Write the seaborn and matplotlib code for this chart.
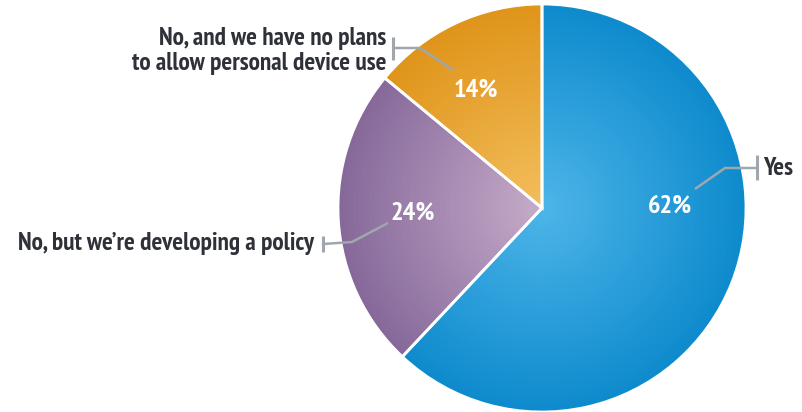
import numpy as np
import matplotlib
matplotlib.use("Agg")
import matplotlib.pyplot as plt
import seaborn as sns
from matplotlib.colors import to_rgb

sns.set_theme(style="white")
plt.rcParams['font.family'] = ['PT Sans Narrow', 'Roboto Condensed', 'DejaVu Sans']

# ---- data ----
categories = ["Yes", "No, but we\u2019re developing a policy",
              "No, and we have no plans\nto allow personal device use"]
values = [62, 24, 14]
pct_labels = ["62%", "24%", "14%"]

# ---- style ----
edge_colors = ["#0e8bcd", "#86699a", "#df951a"]
center_colors = ["#4cb4e8", "#c6aac8", "#f3bd5c"]

W, H = 802, 412
fig = plt.figure(figsize=(W / 100, H / 100), dpi=100)
ax = fig.add_axes([0, 0, 1, 1])

cx, cy, R = 542, H - 208, 204

# radial gradient via concentric pies
n = 40
for i in range(n):
    t = i / (n - 1)
    r = R * (1 - t * 0.97)
    cols = [tuple(np.array(to_rgb(e)) * (1 - t) + np.array(to_rgb(c)) * t)
            for e, c in zip(edge_colors, center_colors)]
    ax.pie(values, colors=cols, startangle=90, counterclock=False,
           center=(cx, cy), radius=r, frame=True,
           wedgeprops=dict(linewidth=0, antialiased=True))
# white separators
ax.pie(values, colors=["none"] * 3, startangle=90, counterclock=False,
       center=(cx, cy), radius=R, frame=True,
       wedgeprops=dict(linewidth=2, edgecolor="white", fill=False))

ax.set_xlim(0, W)
ax.set_ylim(0, H)
ax.set_aspect('equal')
ax.axis('off')

def Y(y):
    return H - y

# percentage labels
pct_pos = [(670, 206), (413, 213), (476, 90)]
for (x, y), s in zip(pct_pos, pct_labels):
    ax.text(x, Y(y), s, color="white", fontsize=19, fontweight="bold",
            ha="center", va="center")

lc = "#a0a6ae"
# leader lines
leaders = [
    [(695, 189), (725, 168), (756, 168)],
    [(388, 223), (352, 242), (323, 244)],
    [(453, 70), (420, 48), (393, 48)],
]
bars = [(757, 155, 180), (323, 236, 252), (393, 37, 60)]
for pts, (bx, b0, b1) in zip(leaders, bars):
    xs, ys = zip(*pts)
    ax.plot(xs, [Y(v) for v in ys], color=lc, lw=1.8, solid_capstyle="butt")
    ax.plot([bx, bx], [Y(b0), Y(b1)], color=lc, lw=2.2, solid_capstyle="butt")

tc = "#2e3138"
fs = 18.3
ax.text(763, Y(168), categories[0], color=tc, fontsize=fs, fontweight="bold",
        ha="left", va="center")
ax.text(314, Y(243), categories[1], color=tc, fontsize=fs, fontweight="bold",
        ha="right", va="center")
ax.text(386, Y(51), categories[2], color=tc, fontsize=fs, fontweight="bold",
        ha="right", va="center", multialignment="right", linespacing=1.1)

fig.savefig("out.png", dpi=100)
